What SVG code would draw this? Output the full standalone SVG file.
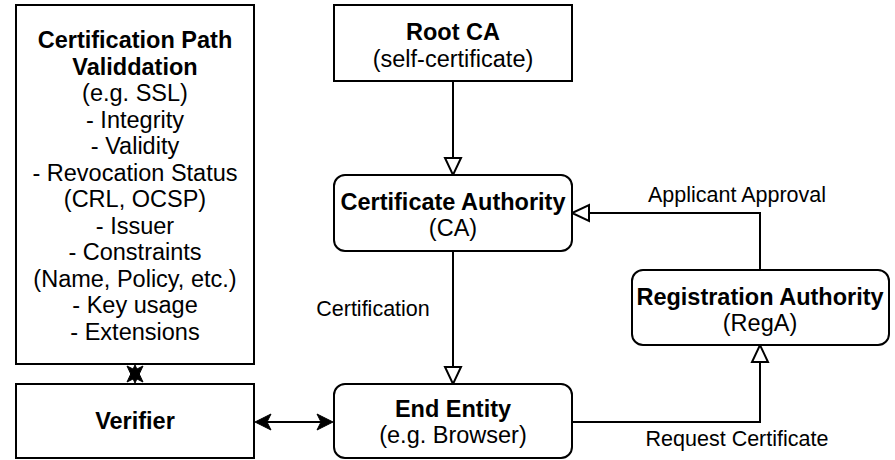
<svg xmlns="http://www.w3.org/2000/svg" width="895" height="460" viewBox="0 0 895 460">
<style>
.box{fill:#fff;stroke:#000;stroke-width:2}
.t{font-family:"Liberation Sans",Arial,sans-serif;font-size:23.5px;text-anchor:middle;fill:#000}
.b{font-weight:bold}
.lbl{font-family:"Liberation Sans",Arial,sans-serif;font-size:21.5px;text-anchor:middle;fill:#000}
.ln{fill:none;stroke:#000;stroke-width:2}
.open{fill:#fff;stroke:#000;stroke-width:2}
.fill{fill:#000;stroke:#000;stroke-width:1}
</style>
<rect width="895" height="460" fill="#fff"/>
<g id="connectors">
  <path class="ln" d="M453,81 V158"/>
  <path class="open" d="M445,158 L461,158 L453,175 Z"/>
  <path class="ln" d="M453,251 V367"/>
  <path class="open" d="M445,367 L461,367 L453,384 Z"/>
  <path class="ln" d="M760,270 V213 H589"/>
  <path class="open" d="M589,205 L589,221 L572,213 Z"/>
  <path class="ln" d="M572,422 H760 V362"/>
  <path class="open" d="M752,362 L768,362 L760,345 Z"/>
  <path class="ln" d="M262,422 H326"/>
  <path class="fill" d="M255,422 L271,414 L267,422 L271,430 Z"/>
  <path class="fill" d="M333,422 L317,414 L321,422 L317,430 Z"/>
  <path class="fill" d="M135,365 L143,382 L135,378 L127,382 Z"/>
  <path class="fill" d="M135,383 L143,366 L135,370 L127,366 Z"/>
  <text class="lbl" x="373" y="316">Certification</text>
  <text class="lbl" x="737" y="202">Applicant Approval</text>
  <text class="lbl" x="737" y="446">Request Certificate</text>
</g>
<g id="cpv">
  <rect class="box" x="16" y="5" width="238" height="359"/>
  <text class="t b" x="135" y="48">Certification Path</text>
  <text class="t b" x="135" y="75">Validdation</text>
  <text class="t" x="135" y="101">(e.g. SSL)</text>
  <text class="t" x="135" y="128">- Integrity</text>
  <text class="t" x="135" y="154">- Validity</text>
  <text class="t" x="135" y="181">- Revocation Status</text>
  <text class="t" x="135" y="207">(CRL, OCSP)</text>
  <text class="t" x="135" y="234">- Issuer</text>
  <text class="t" x="135" y="260">- Constraints</text>
  <text class="t" x="135" y="287">(Name, Policy, etc.)</text>
  <text class="t" x="135" y="313">- Key usage</text>
  <text class="t" x="135" y="340">- Extensions</text>
</g>
<g id="verifier">
  <rect class="box" x="16" y="384" width="238" height="74"/>
  <text class="t b" x="135" y="429">Verifier</text>
</g>
<g id="rootca">
  <rect class="box" x="334" y="5" width="238" height="76"/>
  <text class="t b" x="453" y="40">Root CA</text>
  <text class="t" x="453" y="67">(self-certificate)</text>
</g>
<g id="ca">
  <rect class="box" x="334" y="175" width="238" height="76" rx="11"/>
  <text class="t b" x="453" y="210">Certificate Authority</text>
  <text class="t" x="453" y="236">(CA)</text>
</g>
<g id="endentity">
  <rect class="box" x="334" y="384" width="238" height="74" rx="11"/>
  <text class="t b" x="453" y="417">End Entity</text>
  <text class="t" x="453" y="443">(e.g. Browser)</text>
</g>
<g id="ra">
  <rect class="box" x="632" y="270" width="257" height="75" rx="11"/>
  <text class="t b" x="760" y="305">Registration Authority</text>
  <text class="t" x="760" y="331">(RegA)</text>
</g>
</svg>
